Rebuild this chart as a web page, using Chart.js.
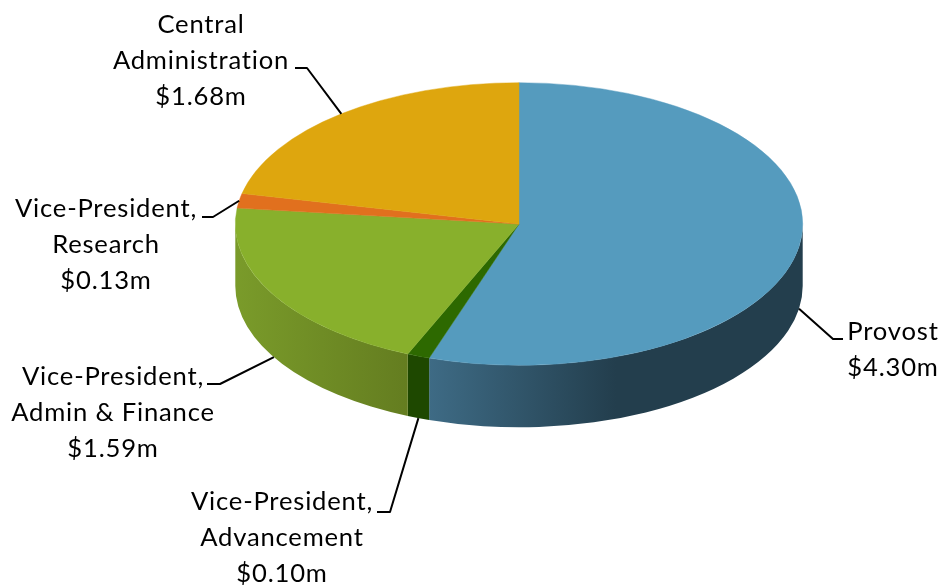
<!DOCTYPE html>
<html>
<head>
<meta charset="utf-8">
<style>
  html, body { margin: 0; padding: 0; background: #fff; }
  #wrap { width: 942px; height: 585px; position: relative; }
</style>
<script src="https://cdn.jsdelivr.net/npm/chart.js@4"></script>
</head>
<body>
<div id="wrap"><canvas id="pie" width="942" height="585"></canvas></div>
<script>
// Budget allocation by division, in $ millions
const divisions = ["Provost", "Vice-President, Advancement", "Vice-President, Admin & Finance", "Vice-President, Research", "Central Administration"];
const amounts = [4.30, 0.10, 1.59, 0.13, 1.68];
const labelLines = [
  ["Provost", "$4.30m"],
  ["Vice-President,", "Advancement", "$0.10m"],
  ["Vice-President,", "Admin & Finance", "$1.59m"],
  ["Vice-President,", "Research", "$0.13m"],
  ["Central", "Administration", "$1.68m"]
];
const topColors = ["#559BBE", "#2D6900", "#88B02C", "#E1701E", "#DEA60E"];
const wallFrom  = ["#3E6B85", "#1E4800", "#7A9B2A", "#9C4E14", "#9A740A"];
const wallTo    = ["#233E4D", "#1E4800", "#647D20", "#9C4E14", "#9A740A"];

// Tilted disc: vertical squash, on-screen centre and wall height
const SQUASH = 0.4982;
const DISC_Y = 224;
const DEPTH = 62;

// Callout layout per slice: label centre x, first line centre y, elbow and tail of the leader
const callouts = [
  { cx: 893, y: 332, elbow: [833, 339], tail: [843, 339] },
  { cx: 282, y: 502, elbow: [390, 512], tail: [377, 512] },
  { cx: 113, y: 377, elbow: [220, 384], tail: [207, 384] },
  { cx: 106, y: 209, elbow: [213, 217], tail: [202, 217] },
  { cx: 201, y: 25,  elbow: [307, 68],  tail: [295, 68] }
];
const LINE_PITCH = 36;
const LABEL_FONT = '25.6px Lato, "Open Sans", sans-serif';

function discGeometry(chart) {
  const el = chart.getDatasetMeta(0).data[0];
  return { x: el.x, y: el.y, r: el.outerRadius };
}

const tiltedDisc = {
  id: "tiltedDisc",
  beforeDatasetDraw(chart) {
    const ctx = chart.ctx;
    const g = discGeometry(chart);
    const rx = g.r, ry = g.r * SQUASH;
    // Side wall, visible only over the front half of the rim
    chart.getDatasetMeta(0).data.forEach((el, i) => {
      const a0 = Math.max(el.startAngle, 0);
      const a1 = Math.min(el.endAngle, Math.PI);
      if (a1 <= a0) return;
      const xa = g.x + rx * Math.cos(a0), xb = g.x + rx * Math.cos(a1);
      const grad = ctx.createLinearGradient(Math.min(xa, xb), 0, Math.max(xa, xb), 0);
      // The blue wall reaches its darkest tone about halfway along
      grad.addColorStop(0, wallFrom[i]);
      if (i === 0) grad.addColorStop(0.5, wallTo[i]);
      grad.addColorStop(1, wallTo[i]);
      ctx.save();
      ctx.beginPath();
      ctx.ellipse(g.x, DISC_Y, rx, ry, 0, a0, a1);
      ctx.ellipse(g.x, DISC_Y + DEPTH, rx, ry, 0, a1, a0, true);
      ctx.closePath();
      ctx.fillStyle = grad;
      ctx.fill();
      ctx.restore();
    });
    // Everything the library draws next lands on the squashed top face
    ctx.save();
    ctx.translate(0, DISC_Y);
    ctx.scale(1, SQUASH);
    ctx.translate(0, -g.y);
  },
  afterDatasetDraw(chart) {
    chart.ctx.restore();
  },
  afterDraw(chart) {
    const ctx = chart.ctx;
    const g = discGeometry(chart);
    const rx = g.r, ry = g.r * SQUASH;
    chart.getDatasetMeta(0).data.forEach((el, i) => {
      const mid = (el.startAngle + el.endAngle) / 2;
      const ax = g.x + rx * Math.cos(mid);
      let ay = DISC_Y + ry * Math.sin(mid);
      if (Math.sin(mid) > 0) ay += DEPTH;
      const c = callouts[i];
      ctx.save();
      ctx.strokeStyle = "#000";
      ctx.lineWidth = 2;
      ctx.lineJoin = "round";
      ctx.beginPath();
      ctx.moveTo(ax, ay);
      ctx.lineTo(c.elbow[0], c.elbow[1]);
      ctx.lineTo(c.tail[0], c.tail[1]);
      ctx.stroke();
      ctx.fillStyle = "#000";
      ctx.font = LABEL_FONT;
      ctx.letterSpacing = "0.8px";
      ctx.textAlign = "center";
      ctx.textBaseline = "middle";
      labelLines[i].forEach((line, k) => ctx.fillText(line, c.cx, c.y + k * LINE_PITCH));
      ctx.restore();
    });
  }
};

new Chart(document.getElementById("pie"), {
  type: "pie",
  data: {
    labels: divisions,
    datasets: [{
      data: amounts,
      backgroundColor: topColors,
      borderColor: topColors,
      borderWidth: 0.6
    }]
  },
  options: {
    responsive: false,
    animation: false,
    rotation: 0,
    layout: { padding: { left: 235, right: 139, top: 8.5, bottom: 8.5 } },
    plugins: {
      legend: { display: false },
      tooltip: { enabled: false }
    }
  },
  plugins: [tiltedDisc]
});
</script>
</body>
</html>
